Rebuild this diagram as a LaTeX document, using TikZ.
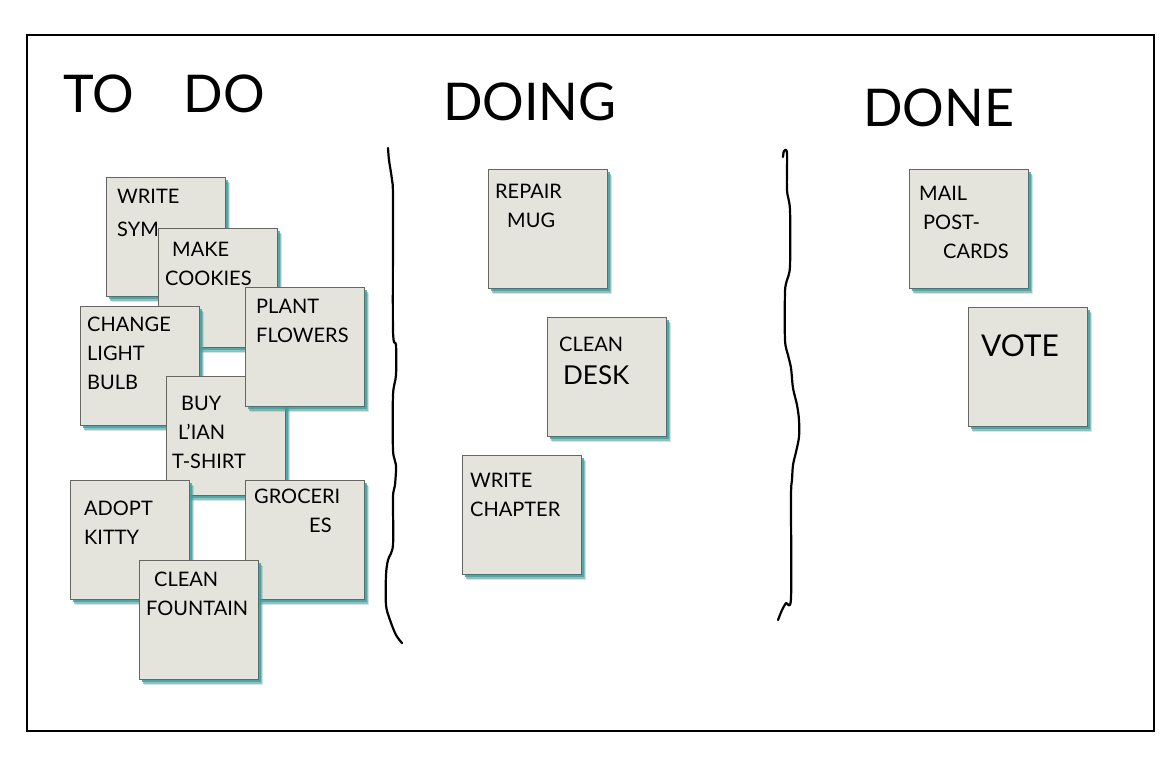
\documentclass[tikz,border=0pt]{standalone}
\usepackage{fontspec}
\setmainfont{Lato}
\usetikzlibrary{positioning}
\usetikzlibrary{shadows}

\definecolor{paper}{RGB}{228,228,220}
\definecolor{pin}{RGB}{62,160,158}

\begin{document}
\begin{tikzpicture}
[x = 1pt, y = -1pt, line cap = round, 
board line/.style = {line width = 2pt}, 
divider/.style = {line width = 2.2pt, line join = round}, 
heading/.style = {anchor = west, inner sep = 0pt, font = \fontsize{52}{56}\selectfont}, 
note/.style = {draw = gray!80!black, fill = paper, line width = 0.8pt, anchor = north west, inner sep = 0pt, 
  minimum width = 119pt, minimum height = 119pt, 
  drop shadow = {shadow xshift = 4.5pt, shadow yshift = -6pt, fill = pin, opacity = 0.25}, 
  drop shadow = {shadow xshift = 3.5pt, shadow yshift = -4.5pt, fill = pin, opacity = 0.5}, 
  drop shadow = {shadow xshift = 2.5pt, shadow yshift = -3pt, fill = pin, opacity = 0.8}}, 
scribble/.style = {anchor = north west, inner sep = 0pt, align = left, font = \fontsize{20}{29}\selectfont}]

\useasboundingbox (0, 0) rectangle (1174, 772);
\draw[board line] (27, 35) rectangle (1154, 731);

% column titles
\node[heading] (todo) at (63, 94) {TO\hspace{50pt}DO};
\node[heading] (doing) at (443, 102) {DOING};
\node[heading] (done) at (863, 108) {DONE};

% hand drawn dividers
\draw[divider] plot[smooth] coordinates {(388, 148) (389, 160) (392, 180) (393, 200) (393, 330) (396, 345) (396, 375) (393, 395) (393, 450) (396, 465) (395, 485) (393, 497) (393, 545) (388, 560) (386, 575) (386, 605) (390, 620) (396, 635) (402, 643)};
\draw[divider] plot[smooth] coordinates {(783, 157) (784, 151) (787, 153) (787, 190) (790, 210) (790, 266) (787, 280) (785, 292) (785, 340) (788, 355) (791, 368) (793, 388) (797, 405) (799, 420) (799, 437) (796, 452) (793, 465) (792, 480) (791, 497) (791, 598) (786, 603) (782, 610) (778, 620)};

% to do
\node[note] (w1) at (106, 177) {};
\node[scribble, font = \fontsize{20}{33}\selectfont] (w1t) at ([shift = {(11, 12)}]w1.north west) {WRITE\\SYM};
\node[note] (m1) at (158, 228) {};
\node[scribble] (m1t) at ([shift = {(7, 14)}]m1.north west) {\hspace*{7pt}MAKE\\COOKIES};
\node[note] (c1) at (80, 306) {};
\node[scribble] (c1t) at ([shift = {(7, 11)}]c1.north west) {CHANGE\\LIGHT\\BULB};
\node[note] (b1) at (166, 376) {};
\node[scribble] (b1t) at ([shift = {(6, 20)}]b1.north west) {\hspace*{9pt}BUY\\\hspace*{6pt}L'IAN\\T-SHIRT};
\node[note] (p1) at (245, 287) {};
\node[scribble] (p1t) at ([shift = {(11, 12)}]p1.north west) {PLANT\\FLOWERS};
\node[note] (a1) at (70, 480) {};
\node[scribble] (a1t) at ([shift = {(14, 21)}]a1.north west) {ADOPT\\KITTY};
\node[note] (g1) at (245, 480) {};
\node[scribble] (g1t) at ([shift = {(9, 9)}]g1.north west) {GROCERI\\\hspace*{55pt}ES};
\node[note] (f1) at (139, 560) {};
\node[scribble] (f1t) at ([shift = {(7, 12)}]f1.north west) {\hspace*{8pt}CLEAN\\FOUNTAIN};

% doing
\node[note] (r1) at (488, 169) {};
\node[scribble] (r1t) at ([shift = {(7, 15)}]r1.north west) {REPAIR\\\hspace*{12pt}MUG};
\node[note] (d1) at (547, 317) {};
\node[scribble] (d1t) at ([shift = {(12, 20)}]d1.north west) {CLEAN\\[4pt]\hspace*{4pt}{\fontsize{26}{30}\selectfont DESK}};
\node[note] (h1) at (462, 455) {};
\node[scribble] (h1t) at ([shift = {(8, 18)}]h1.north west) {WRITE\\CHAPTER};

% done
\node[note] (mp) at (909, 169) {};
\node[scribble] (mpt) at ([shift = {(10, 17)}]mp.north west) {MAIL\\\hspace*{4pt}POST-\\\hspace*{24pt}CARDS};
\node[note] (v1) at (968, 307) {};
\node[scribble, font = \fontsize{30}{34}\selectfont] (v1t) at ([shift = {(13, 28)}]v1.north west) {VOTE};
\end{tikzpicture}
\end{document}
